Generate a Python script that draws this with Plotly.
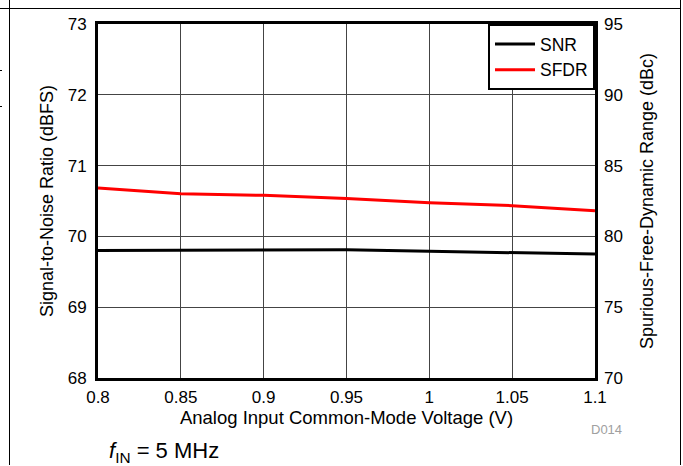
import plotly.graph_objects as go

voltage = [0.8, 0.85, 0.9, 0.95, 1.0, 1.05, 1.1]
snr = [69.80, 69.80, 69.81, 69.81, 69.79, 69.775, 69.75]
sfdr = [83.42, 83.02, 82.90, 82.68, 82.38, 82.17, 81.81]

x_ticks = [0.8, 0.85, 0.9, 0.95, 1.0, 1.05, 1.1]
x_labels = ['0.8', '0.85', '0.9', '0.95', '1', '1.05', '1.1']

FONT = 'Liberation Sans, Arial, sans-serif'

fig = go.Figure()
fig.add_trace(go.Scatter(x=voltage, y=snr, mode='lines', name='SNR',
                         line=dict(color='black', width=3)))
fig.add_trace(go.Scatter(x=voltage, y=sfdr, mode='lines', name='SFDR', yaxis='y2',
                         line=dict(color='#ff0000', width=3)))

fig.update_layout(
    width=683, height=466,
    margin=dict(l=98, r=88, t=24, b=88),
    paper_bgcolor='white', plot_bgcolor='white',
    font=dict(family=FONT, size=17, color='black'),
    showlegend=True,
    legend=dict(x=1, y=1, xanchor='right', yanchor='top',
                bgcolor='white', bordercolor='black', borderwidth=2,
                font=dict(size=17.5), itemwidth=40, tracegroupgap=0),
    xaxis=dict(range=[0.8, 1.1], tickvals=x_ticks, ticktext=x_labels,
               showgrid=True, gridcolor='#444444', gridwidth=1,
               showline=True, linecolor='black', linewidth=3, mirror=True,
               ticks='', zeroline=False, ticklabelstandoff=2,
               title=dict(text='Analog Input Common-Mode Voltage (V)', standoff=2,
                          font=dict(size=18.5))),
    yaxis=dict(range=[68, 73], dtick=1,
               showgrid=True, gridcolor='#444444', gridwidth=1,
               showline=True, linecolor='black', linewidth=3, mirror=True,
               ticks='', zeroline=False, ticklabelstandoff=5,
               title=dict(text='Signal-to-Noise Ratio (dBFS)', standoff=10,
                          font=dict(size=18))),
    yaxis2=dict(range=[70, 95], dtick=5, overlaying='y', side='right',
                showgrid=False, zeroline=False, ticks='', ticklabelstandoff=8,
                title=dict(text='Spurious-Free-Dynamic Range (dBc)', standoff=18,
                           font=dict(size=18))),
)

# page frame lines around the figure (pixel positions -> paper units)
def px(x):
    return (x - 98) / 497

def py(y):
    return (378 - y) / 354

frame = dict(color='black', width=1)
fig.add_shape(type='line', xref='paper', yref='paper', x0=px(0), x1=px(680.5),
              y0=py(8.5), y1=py(8.5), line=frame)
fig.add_shape(type='line', xref='paper', yref='paper', x0=px(9.5), x1=px(9.5),
              y0=py(0), y1=py(465), line=frame)
fig.add_shape(type='line', xref='paper', yref='paper', x0=px(680.5), x1=px(680.5),
              y0=py(0), y1=py(465), line=frame)
for yy in [70.5, 106.5]:
    fig.add_shape(type='line', xref='paper', yref='paper', x0=px(0), x1=px(2),
                  y0=py(yy), y1=py(yy), line=frame)

fig.add_annotation(text='<i>f</i><sub>IN</sub> = 5 MHz', xref='paper', yref='paper',
                   x=px(107), y=py(452), xanchor='left', yanchor='middle',
                   showarrow=False, font=dict(size=22))
fig.add_annotation(text='D014', xref='paper', yref='paper',
                   x=px(624), y=py(429), xanchor='right', yanchor='middle',
                   showarrow=False, font=dict(size=13, color='#a0a0a0'))

fig.write_html('out.html', config={'displayModeBar': False},
               post_script="document.body.style.margin='0';")
